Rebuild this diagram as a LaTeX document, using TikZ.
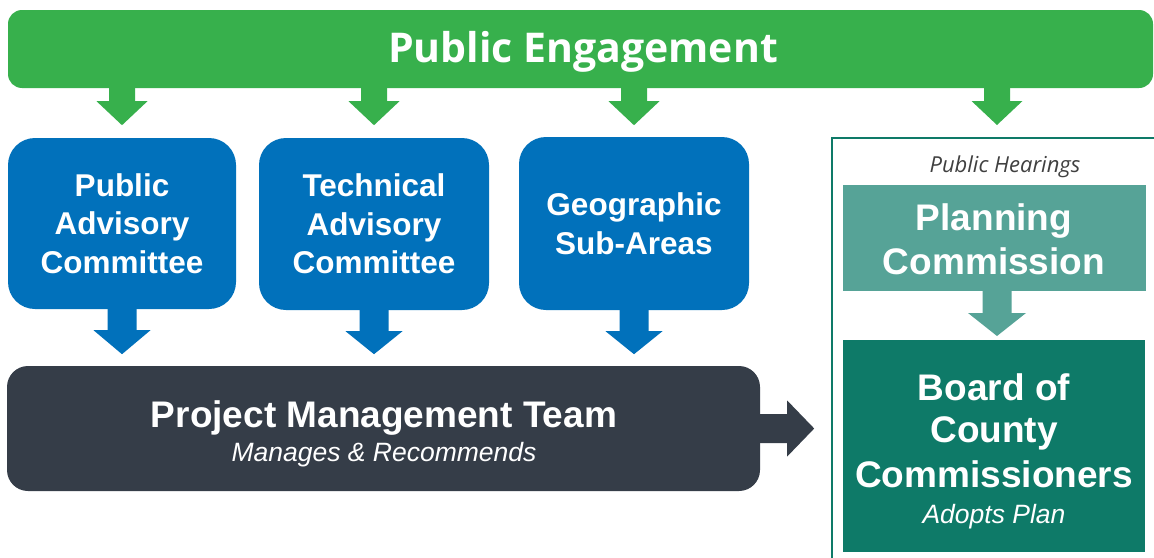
\documentclass[tikz,border=0pt]{standalone}
\usepackage{fontspec}
\setmainfont{Liberation Sans}
\newfontfamily\osans{Open Sans}
\usetikzlibrary{calc}
\definecolor{pegreen}{HTML}{37B04C}
\definecolor{pblue}{HTML}{0171BB}
\definecolor{pdark}{HTML}{353D48}
\definecolor{plteal}{HTML}{56A397}
\definecolor{pteal}{HTML}{0E7A68}
\definecolor{pgray}{HTML}{404040}
% color, start point, shaft length, total length, half shaft width, half head width
\newcommand\blockdown[6]{%
  \fill[#1] ($(#2)+(-#5,-1)$) -- ($(#2)+(#5,-1)$) -- ($(#2)+(#5,#3)$) -- ($(#2)+(#6,#3)$)
    -- ($(#2)+(0,#4)$) -- ($(#2)+(-#6,#3)$) -- ($(#2)+(-#5,#3)$) -- cycle;}
\newcommand\blockright[6]{%
  \fill[#1] ($(#2)+(-1,-#5)$) -- ($(#2)+(-1,#5)$) -- ($(#2)+(#3,#5)$) -- ($(#2)+(#3,#6)$)
    -- ($(#2)+(#4,0)$) -- ($(#2)+(#3,-#6)$) -- ($(#2)+(#3,-#5)$) -- cycle;}
\begin{document}
\begin{tikzpicture}[x=1pt,y=-1pt,
  bluebox/.style={fill=pblue, rounded corners=27pt, minimum width=230pt, minimum height=172pt,
    inner sep=0pt, text=white, align=center, font=\bfseries\fontsize{31.5}{38.5}\selectfont},
  whitebold/.style={text=white, inner sep=0pt, anchor=base, font=\bfseries\fontsize{37}{44}\selectfont},
  whiteital/.style={text=white, inner sep=0pt, anchor=base, font=\itshape\fontsize{26.5}{32}\selectfont},
]
\clip (0,0) rectangle (1154,557);
\fill[white] (0,0) rectangle (1154,557);

% top bar
\node[fill=pegreen, rounded corners=14pt, minimum width=1145pt, minimum height=78pt, inner sep=0pt] (pe) at (580.5,49) {};
\node[text=white, inner sep=0pt, anchor=base, font=\osans\bfseries\fontsize{41}{48}\selectfont] (pet) at (583,62) {Public Engagement};

% blue boxes
\node[bluebox, minimum width=228pt, minimum height=171pt] (pac) at (122,223.5) {Public\\Advisory\\Committee};
\node[bluebox] (tac) at (374,224) {Technical\\Advisory\\Committee};
\node[bluebox, minimum height=173pt] (geo) at (634,223.5) {Geographic\\Sub-Areas};

% right panel
\draw[pteal, line width=2pt] (832,138) rectangle (1175,580);
\node[text=pgray, inner sep=0pt, anchor=base, font=\osans\itshape\fontsize{22}{26}\selectfont] (ph) at (1005,172) {Public Hearings};
\node[fill=plteal, minimum width=303pt, minimum height=106pt, inner sep=0pt] (pc) at (994.5,238) {};
\node[whitebold] (pc1) at (994,230) {Planning};
\node[whitebold] (pc2) at (994,274) {Commission};
\node[fill=pteal, minimum width=302pt, minimum height=212pt, inner sep=0pt] (bcc) at (994,446) {};
\node[whitebold] (bcc1) at (994,400) {Board of};
\node[whitebold] (bcc2) at (994,442) {County};
\node[whitebold] (bcc3) at (994,487) {Commissioners};
\node[whiteital] (bcc4) at (994,523) {Adopts Plan};

% project management team
\node[fill=pdark, rounded corners=21pt, minimum width=753pt, minimum height=125pt, inner sep=0pt] (pmt) at (383.5,428.5) {};
\node[whitebold] (pmt1) at (384,427) {Project Management Team};
\node[whiteital] (pmt2) at (384,461) {Manages \& Recommends};

% green arrows
\coordinate (g1) at (pe.south -| pac.north);
\coordinate (g2) at (pe.south -| tac.north);
\coordinate (g3) at (pe.south -| geo.north);
\coordinate (g4) at (997,88);
\foreach \c in {g1,g2,g3,g4} {\blockdown{pegreen}{\c}{13}{37}{13}{25.5}}

% blue arrows
\blockdown{pblue}{pac.south}{21}{45}{14.5}{28.5}
\blockdown{pblue}{tac.south}{21}{44}{14.5}{28.5}
\blockdown{pblue}{geo.south}{21}{44}{14.5}{28.5}

% teal arrow
\coordinate (t1) at (997,291);
\blockdown{plteal}{t1}{22}{45}{14.5}{29}

% dark arrow
\coordinate (d1) at (pmt.east);
\blockright{pdark}{d1}{27}{54}{14.5}{28}
\end{tikzpicture}
\end{document}
